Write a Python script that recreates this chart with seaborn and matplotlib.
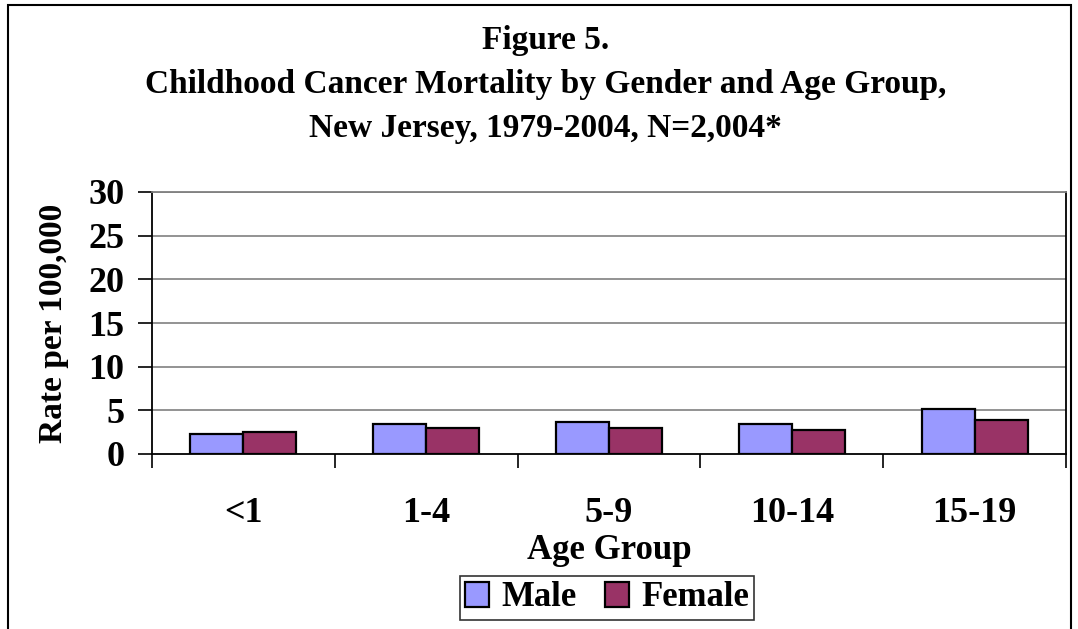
import matplotlib
matplotlib.use("Agg")
import matplotlib.pyplot as plt
import seaborn as sns
import pandas as pd
from matplotlib.patches import Rectangle

age_groups = ["<1", "1-4", "5-9", "10-14", "15-19"]
male = [2.25, 3.45, 3.7, 3.4, 5.2]
female = [2.5, 2.95, 3.0, 2.7, 3.95]
y_ticks = [0, 5, 10, 15, 20, 25, 30]

df = pd.DataFrame({
    "Age Group": age_groups * 2,
    "Rate": male + female,
    "Gender": ["Male"] * 5 + ["Female"] * 5,
})

sns.set_theme(style="white")
plt.rcParams["font.family"] = ["Liberation Serif", "DejaVu Serif"]
plt.rcParams["font.weight"] = "bold"
plt.rcParams["text.color"] = "black"
plt.rcParams["axes.labelcolor"] = "black"
plt.rcParams["xtick.color"] = "black"
plt.rcParams["ytick.color"] = "black"

fig = plt.figure(figsize=(10.78, 6.29), dpi=100)
ax = fig.add_axes([152/1078, 1-454/629, (1066-152)/1078, (454-192)/629])

sns.barplot(data=df, x="Age Group", y="Rate", hue="Gender", order=age_groups,
            hue_order=["Male", "Female"], palette=["#9999FF", "#993366"], saturation=1,
            width=0.58, edgecolor="black", linewidth=1.6, ax=ax, legend=True, zorder=3)

ax.set_ylim(0, 30)
ax.set_xlim(-0.5, 4.5)
ax.set_yticks(y_ticks)
ax.set_yticklabels([str(t) for t in y_ticks], fontsize=26, fontweight="bold", color="black")
for t in y_ticks[1:]:
    ax.axhline(t, color="#808080", linewidth=1.2, zorder=1)

ax.set_xticks([i - 0.5 for i in range(6)])
ax.set_xticklabels([])
ax.set_xticks(range(5), minor=True)
ax.set_xticklabels(age_groups, minor=True, fontsize=26, fontweight="bold", color="black")
ax.tick_params(axis="x", which="major", direction="out", length=10, width=1.2, color="black", bottom=True)
ax.tick_params(axis="x", which="minor", length=0, pad=31)
ax.tick_params(axis="y", direction="out", length=10, width=1.2, color="black", left=True, pad=10)

for side in ["left", "bottom", "right"]:
    ax.spines[side].set_visible(True)
    ax.spines[side].set_color("black")
    ax.spines[side].set_linewidth(1.3)
ax.spines["top"].set_visible(True)
ax.spines["top"].set_color("#808080")
ax.spines["top"].set_linewidth(1.3)

ax.set_xlabel("Age Group", fontsize=25, fontweight="bold", labelpad=3, color="black")
ax.set_ylabel("Rate per 100,000", fontsize=24, fontweight="bold", labelpad=14, color="black")

leg = ax.legend(loc="center", bbox_to_anchor=(607/1078, 1-598/629), bbox_transform=fig.transFigure,
                ncol=2, fontsize=25, frameon=True, fancybox=False, edgecolor="black",
                handlelength=0.7, handleheight=0.7, handletextpad=0.35, columnspacing=0.8,
                borderpad=0.15, borderaxespad=0)
leg.get_frame().set_linewidth(1.2)
for txt in leg.get_texts():
    txt.set_fontweight("bold")
    txt.set_color("black")

fig.text(0.506, 1-40/629, "Figure 5.", ha="center", va="center", fontsize=24, fontweight="bold")
fig.text(0.506, 1-85/629, "Childhood Cancer Mortality by Gender and Age Group,", ha="center", va="center",
         fontsize=24, fontweight="bold")
fig.text(0.506, 1-128/629, "New Jersey, 1979-2004, N=2,004*", ha="center", va="center",
         fontsize=24, fontweight="bold")

fig.patches.append(Rectangle((8/1078, -0.1), (1071-8)/1078, 1.1 - 5/629, transform=fig.transFigure,
                             fill=False, edgecolor="black", linewidth=1.5))

fig.savefig("out.png", dpi=100, facecolor="white")
